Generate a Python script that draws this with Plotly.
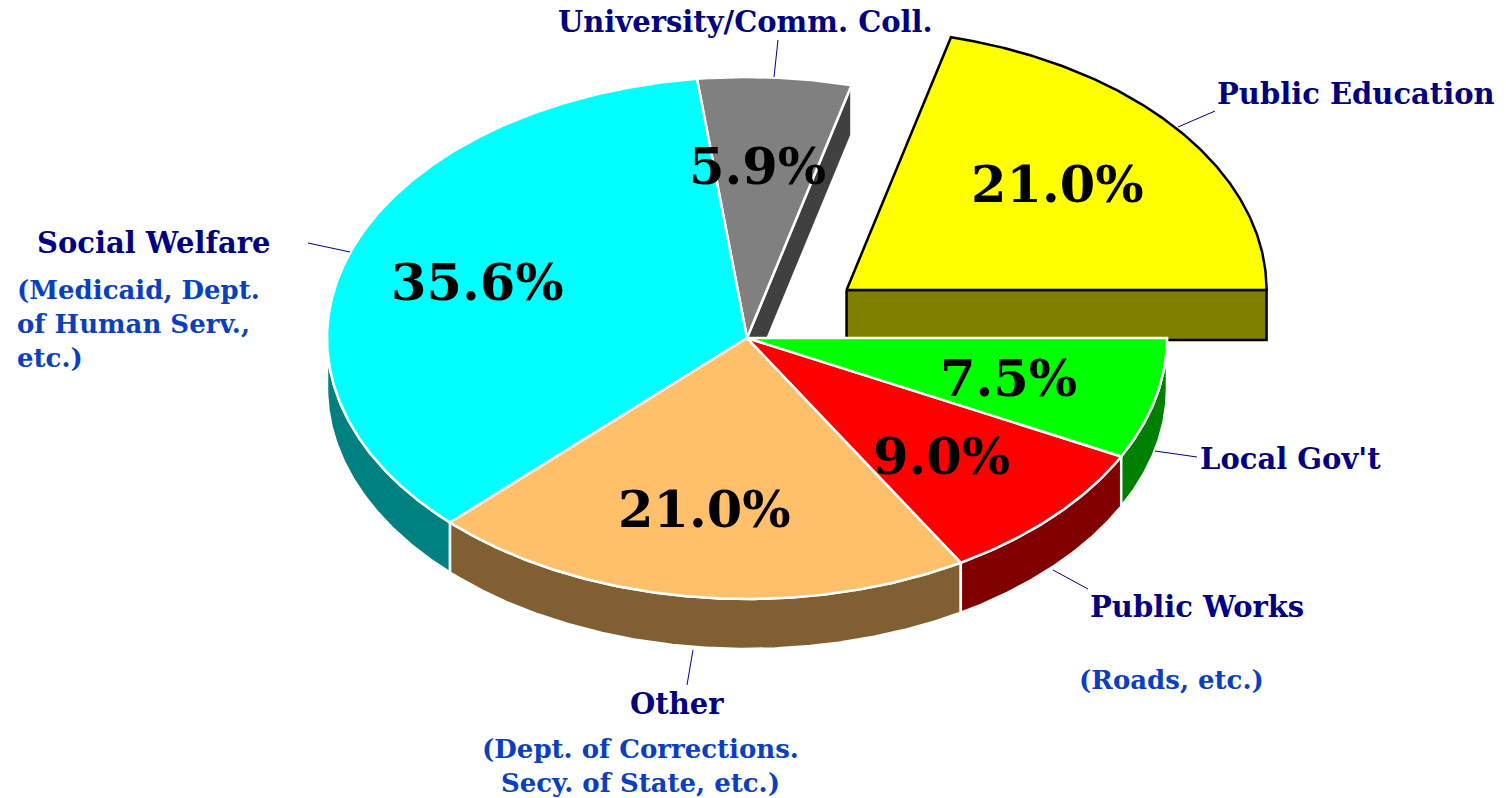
import numpy as np
import plotly.graph_objects as go

# ---------------- data ----------------
labels = ["Public Education", "University/Comm. Coll.", "Social Welfare",
          "Other", "Public Works", "Local Gov't"]
values = [21.0, 5.9, 35.6, 21.0, 9.0, 7.5]
sublabels = ["", "", "(Medicaid, Dept.<br>of Human Serv.,<br>etc.)",
             "(Dept. of Corrections.<br>Secy. of State, etc.)", "(Roads, etc.)", ""]

# ---------------- style ----------------
top_colors = ["#FFFF00", "#808080", "#00FFFF", "#FFC06C", "#FF0000", "#00FF00"]
side_colors = ["#808000", "#404040", "#008080", "#806033", "#800000", "#008000"]
edge_colors = ["#000000", "#FFFFFF", "#FFFFFF", "#FFFFFF", "#FFFFFF", "#FFFFFF"]
pulls = [0.3, 0, 0, 0, 0, 0]

W, H = 1506, 798
CX, CY, RX, RY, DEPTH = 747, 338, 420, 261, 50
START = 0.0
FONT = "DejaVu Serif"
NAVY = "#000080"
SUBBLUE = "#0A40C0"

# label placement (x, y, xanchor) and leader lines per category
label_pos = {
    "Public Education": (1215, 94, "left"),
    "University/Comm. Coll.": (745, 22, "center"),
    "Social Welfare": (35, 243, "left"),
    "Other": (677, 704, "center"),
    "Public Works": (1088, 607, "left"),
    "Local Gov't": (1198, 459, "left"),
}
sub_pos = {
    "Social Welfare": (15, 324, "left", "left"),
    "Other": (640, 766, "center", "center"),
    "Public Works": (1077, 680, "left", "left"),
}
leaders = {
    "Public Education": ((1178, 127), (1215, 111)),
    "University/Comm. Coll.": ((774, 77), (778, 40)),
    "Social Welfare": ((350, 252), (308, 243)),
    "Other": ((693, 650), (687, 685)),
    "Public Works": ((1053, 570), (1088, 589)),
    "Local Gov't": ((1155, 451), (1197, 457)),
}

# ---------------- geometry ----------------
total = float(sum(values))
cum = np.concatenate([[0.0], np.cumsum(values)])
a0s = START + 360.0 * cum[:-1] / total
a1s = START + 360.0 * cum[1:] / total
n = len(values)


def offset(i):
    mid = np.radians((a0s[i] + a1s[i]) / 2)
    return pulls[i] * RX * np.cos(mid), -pulls[i] * RY * np.sin(mid)


def pt(t_deg, dx, dy, down=0.0):
    t = np.radians(t_deg)
    return CX + dx + RX * np.cos(t), CY + dy - RY * np.sin(t) + down


def arc(s, e, dx, dy, down=0.0):
    k = max(2, int(abs(e - s) / 0.4) + 1)
    t = np.linspace(s, e, k)
    return pt(t, dx, dy, down)


fig = go.Figure()


def poly(xs, ys, fill, line, width=2.5):
    xs = list(xs) + [xs[0]]
    ys = list(ys) + [ys[0]]
    fig.add_trace(go.Scatter(x=xs, y=ys, mode="lines", fill="toself",
                             fillcolor=fill, line=dict(color=line, width=width),
                             hoverinfo="skip", showlegend=False))


def walls(i):
    dx, dy = offset(i)
    prev_i, next_i = (i - 1) % n, (i + 1) % n
    # radial walls facing a gap
    if (pulls[i] > 0 or pulls[prev_i] > 0) and np.cos(np.radians(a0s[i])) > 1e-9:
        ex, ey = pt(a0s[i], dx, dy)
        xs = [CX + dx, ex, ex, CX + dx]
        ys = [CY + dy, ey, ey + DEPTH, CY + dy + DEPTH]
        poly(xs, ys, side_colors[i], edge_colors[i])
    if (pulls[i] > 0 or pulls[next_i] > 0) and np.cos(np.radians(a1s[i])) < -1e-9:
        ex, ey = pt(a1s[i], dx, dy)
        xs = [CX + dx, ex, ex, CX + dx]
        ys = [CY + dy, ey, ey + DEPTH, CY + dy + DEPTH]
        poly(xs, ys, side_colors[i], edge_colors[i])
    # curved outer wall on front half (180..360)
    s, e = max(a0s[i], 180.0), min(a1s[i], 360.0)
    if e > s:
        tx, ty = arc(s, e, dx, dy)
        bx, by = arc(e, s, dx, dy, DEPTH)
        poly(np.concatenate([tx, bx]), np.concatenate([ty, by]),
             side_colors[i], edge_colors[i])


def top(i):
    dx, dy = offset(i)
    ax, ay = arc(a0s[i], a1s[i], dx, dy)
    poly(np.concatenate([[CX + dx], ax]), np.concatenate([[CY + dy], ay]),
         top_colors[i], edge_colors[i])


pulled = [i for i in range(n) if pulls[i] > 0]
body = [i for i in range(n) if pulls[i] == 0]
for i in pulled:
    walls(i)
    top(i)
for i in body:
    walls(i)
for i in body:
    top(i)

annotations = []
# percentage labels
for i in range(n):
    dx, dy = offset(i)
    mid = (a0s[i] + a1s[i]) / 2
    t = np.radians(mid)
    x = CX + dx + 0.66 * RX * np.cos(t)
    y = CY + dy - 0.66 * RY * np.sin(t)
    annotations.append(dict(x=x, y=y, xref="x", yref="y", showarrow=False,
                            text=f"{values[i]:.1f}%", xanchor="center", yanchor="middle",
                            xshift=-8,
                            font=dict(family=FONT, size=51, color="black", weight="bold")))

# category labels
shapes = []
for i, lab in enumerate(labels):
    x, y, xa = label_pos[lab]
    annotations.append(dict(x=x, y=y, xref="x", yref="y", showarrow=False,
                            text=lab, xanchor=xa, yanchor="middle",
                            font=dict(family=FONT, size=29, color=NAVY, weight="bold")))
    if sublabels[i]:
        sx, sy, sxa, al = sub_pos[lab]
        annotations.append(dict(x=sx, y=sy, xref="x", yref="y", showarrow=False,
                                text=sublabels[i], xanchor=sxa, yanchor="middle", align=al,
                                font=dict(family=FONT, size=26, color=SUBBLUE, weight="bold")))
    (x0, y0), (x1, y1) = leaders[lab]
    shapes.append(dict(type="line", xref="x", yref="y", x0=x0, y0=y0, x1=x1, y1=y1,
                       line=dict(color=NAVY, width=1)))

fig.update_layout(
    width=W, height=H, margin=dict(l=0, r=0, t=0, b=0),
    paper_bgcolor="white", plot_bgcolor="white",
    xaxis=dict(range=[0, W], visible=False, fixedrange=True),
    yaxis=dict(range=[H, 0], visible=False, fixedrange=True),
    annotations=annotations, shapes=shapes, showlegend=False,
)

fig.write_html("out.html")
